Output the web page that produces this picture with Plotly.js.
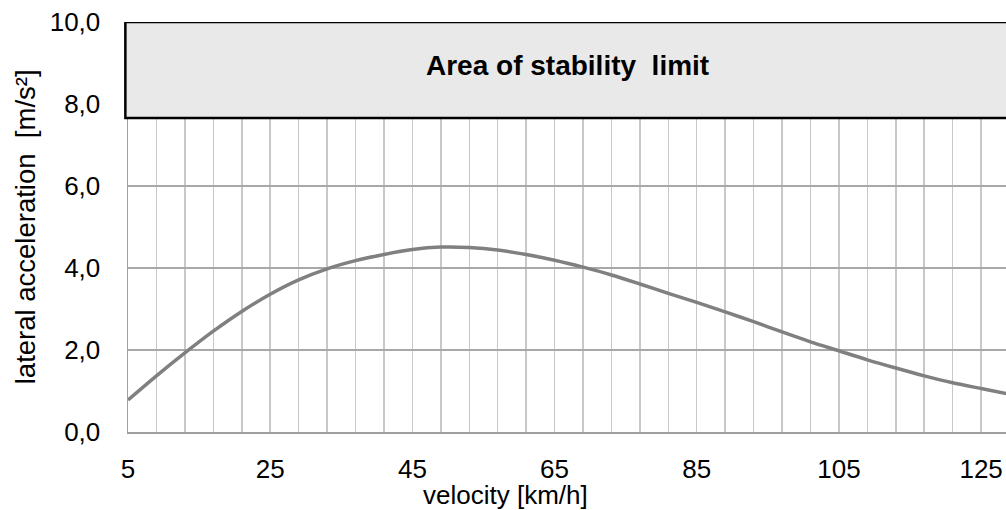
<!DOCTYPE html>
<html>
<head>
<meta charset="utf-8">
<script src="https://cdn.plot.ly/plotly-3.0.1.min.js"></script>
<style>html,body{margin:0;padding:0;background:#fff;}#chart{width:1006px;height:510px;}</style>
</head>
<body>
<div id="chart"></div>
<script>
// velocity [km/h]
var velocity = [5, 9, 13, 17, 21, 25, 29, 33, 37, 41, 45, 49, 53, 57, 61, 65, 69, 73, 77, 81, 85, 89, 93, 97, 101, 105, 109, 113, 117, 121, 125, 129];
// lateral acceleration [m/s²]
var lateralAcc = [0.78, 1.37, 1.93, 2.46, 2.94, 3.36, 3.71, 3.98, 4.18, 4.33, 4.45, 4.51, 4.50, 4.44, 4.33, 4.19, 4.02, 3.83, 3.61, 3.38, 3.16, 2.93, 2.69, 2.44, 2.20, 1.98, 1.76, 1.56, 1.37, 1.20, 1.06, 0.92];

var xTickVals = [5, 25, 45, 65, 85, 105, 125];
var xTickLabels = ['5', '25', '45', '65', '85', '105', '125'];
var yTickVals = [0, 2, 4, 6, 8, 10];
var yTickLabels = ['0,0', '2,0', '4,0', '6,0', '8,0', '10,0'];

var stabilityLimitLow = 7.66;
var stabilityLimitHigh = 10;
var stabilityLabel = 'Area of stability  limit';

var FONT = 'Liberation Sans, Arial, sans-serif';

var trace = {
  x: velocity,
  y: lateralAcc,
  type: 'scatter',
  mode: 'lines',
  line: {color: '#808080', width: 3.5, shape: 'spline', smoothing: 0.8},
  hoverinfo: 'skip'
};

var layout = {
  width: 1006,
  height: 510,
  margin: {l: 128, r: 0, t: 22, b: 78, pad: 0},
  paper_bgcolor: '#ffffff',
  plot_bgcolor: '#ffffff',
  showlegend: false,
  separators: ', ',
  font: {family: FONT, size: 26, color: '#000000'},
  xaxis: {
    range: [5, 128.5],
    tickmode: 'array',
    tickvals: xTickVals,
    ticktext: xTickLabels,
    ticks: '',
    ticklabelstandoff: 13,
    showgrid: true,
    gridcolor: '#c8c8c8',
    gridwidth: 1.5,
    minor: {tickmode: 'linear', tick0: 5, dtick: 4, showgrid: true, gridcolor: '#c8c8c8', gridwidth: 1.5, ticks: ''},
    showline: true,
    linecolor: '#a0a0a0',
    linewidth: 1.5,
    zeroline: false,
    tickfont: {family: FONT, size: 26, color: '#000'}
  },
  yaxis: {
    range: [0, 10],
    tickmode: 'array',
    tickvals: yTickVals,
    ticktext: yTickLabels,
    ticks: '',
    ticklabelstandoff: 21,
    showgrid: true,
    gridcolor: '#a8a8a8',
    gridwidth: 1.5,
    showline: true,
    linecolor: '#a0a0a0',
    linewidth: 1.5,
    zeroline: false,
    tickfont: {family: FONT, size: 26, color: '#000'}
  },
  shapes: [{
    type: 'rect',
    xref: 'paper', yref: 'y',
    x0: -0.003, x1: 1.01,
    y0: stabilityLimitLow, y1: stabilityLimitHigh,
    fillcolor: '#e9e9e9',
    line: {color: '#000000', width: 2.5},
    layer: 'above'
  }],
  annotations: [
    {
      text: '<b>' + stabilityLabel + '</b>',
      xref: 'paper', yref: 'y',
      x: 0.5, y: (stabilityLimitLow + stabilityLimitHigh) / 2 + 0.1,
      xanchor: 'center', yanchor: 'middle',
      showarrow: false,
      font: {family: FONT, size: 28, color: '#000'}
    },
    {
      text: 'velocity [km/h]',
      xref: 'paper', yref: 'paper',
      x: 0.4305, y: -0.153,
      xanchor: 'center', yanchor: 'middle',
      showarrow: false,
      font: {family: FONT, size: 26, color: '#000'}
    },
    {
      text: 'lateral acceleration  [m/s²]',
      xref: 'paper', yref: 'paper',
      x: -0.117, y: 0.5,
      xanchor: 'center', yanchor: 'middle',
      textangle: -90,
      showarrow: false,
      font: {family: FONT, size: 27.5, color: '#000'}
    }
  ]
};

Plotly.newPlot('chart', [trace], layout, {displayModeBar: false, staticPlot: true});
</script>
</body>
</html>
